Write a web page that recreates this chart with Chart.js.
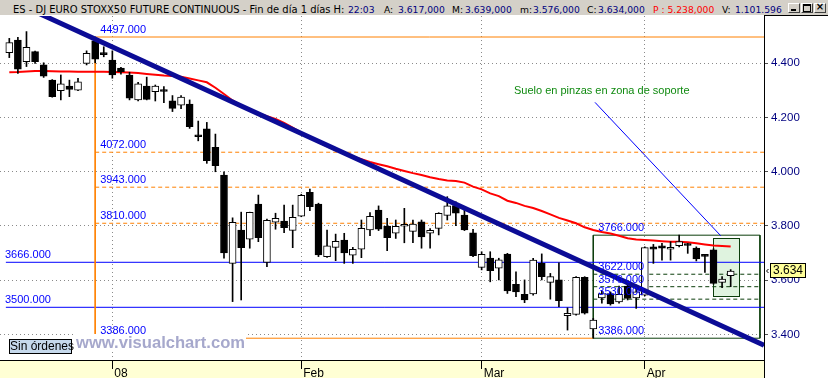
<!DOCTYPE html>
<html><head><meta charset="utf-8">
<script src="https://cdn.jsdelivr.net/npm/chart.js@4.4.1/dist/chart.umd.min.js"></script>
<style>
html,body{margin:0;padding:0;background:#fff;overflow:hidden}
#wrap{position:relative;width:828px;height:378px;overflow:hidden;background:#fff}
#c{position:absolute;left:0;top:0}
#hdr{position:absolute;left:0;top:0;width:828px;height:15px;background:#d4d0c8;font-family:"DejaVu Sans",sans-serif;font-size:9.2px;color:#000}
#hdr span{position:absolute;top:4px;line-height:11px;white-space:pre}
#hdr .v{color:#000080}
#hdr .r{color:#ff0000}
.btn{position:absolute;top:3px;width:10px;height:8px;border:1px solid;border-color:#fff #404040 #404040 #fff;background:#d4d0c8}
#wm{position:absolute;left:75px;top:334px;height:17px;padding:0 1px;background:#fff;font:bold 16.6px "Liberation Sans",Arial,sans-serif;line-height:17px;color:#a6a8cc;white-space:pre}
#so{position:absolute;left:9px;top:339px;width:61px;height:13px;background:#c6d9ec;border:1px solid #000;font:12px "Liberation Sans",Arial,sans-serif;line-height:13px;color:#000;text-align:center;white-space:pre}
</style></head>
<body><div id="wrap">
<canvas id="c" width="828" height="378"></canvas>
<div id="hdr">
<span style="left:13px;font-size:9.95px;top:3.5px">ES - DJ EURO STOXX50 FUTURE CONTINUOUS - Fin de día 1 días H:</span>
<span class="v" style="left:348px">22:03</span>
<span style="left:384px">A:</span><span class="v" style="left:398px">3.617,000</span>
<span style="left:452px">M:</span><span class="v" style="left:465px">3.639,000</span>
<span style="left:520px">m:</span><span class="v" style="left:533px">3.576,000</span>
<span style="left:587px">C:</span><span class="v" style="left:598px">3.634,000</span>
<span class="r" style="left:653px">P : 5.238,000</span>
<span style="left:722px">V:</span><span class="v" style="left:735px">1.101.596</span>
<div class="btn" style="left:788px"><div style="position:absolute;left:2px;top:5px;width:5px;height:2px;background:#000"></div></div>
<div class="btn" style="left:801px"><div style="position:absolute;left:1px;top:0px;width:6px;height:5px;border:1px solid #000;border-top-width:2px"></div></div>
<div class="btn" style="left:814px"><div style="position:absolute;left:0;top:-3px;width:10px;text-align:center;font:bold 10px 'DejaVu Sans';line-height:12px">×</div></div>
</div>
<div id="wm">www.visualchart.com</div>
<div id="so">Sin órdenes</div>
</div>
<script>
// ---------- data ----------
const opens  = [4439,4486,4406,4443,4394,4338,4299,4316,4301,4400, 4483,4439,4412,4382,4357,4265,4316,4295,4298,4262, 4246,4250,4131,4158,4090,3988,3662,3785,3751,3881, 3666,3814,3818,3784,3836,3924,3881,3687,3721,3748, 3692,3714,3785,3859,3800,3773,3799,3780,3815,3773, 3791,3839,3875,3840,3775,3647,3682,3644,3696,3585, 3548,3549,3662,3592,3601,3469,3474,3611,3420,3535, 3551,3520,3578,3535,3545,3723,3727,3714,3727,3730, 3718,3690,3712,3592,3617];
const highs  = [4492,4496,4517,4445,4402,4340,4357,4338,4345,4446, 4497,4461,4446,4385,4367,4330,4349,4320,4314,4281, 4281,4265,4187,4182,4139,4000,3830,3851,3851,3914, 3825,3847,3877,3877,3917,3936,3884,3785,3770,3773, 3721,3822,3849,3874,3828,3822,3865,3822,3822,3790, 3849,3908,3889,3865,3788,3705,3705,3681,3699,3631, 3601,3681,3697,3625,3664,3498,3613,3613,3459,3560, 3557,3578,3597,3582,3723,3732,3736,3742,3766,3736, 3723,3693,3716,3613,3639];
const lows   = [4421,4363,4388,4400,4348,4275,4265,4277,4299,4394, 4402,4424,4345,4360,4265,4261,4265,4261,4255,4222, 4233,4160,4114,4031,4000,3681,3521,3527,3718,3742, 3650,3788,3775,3720,3834,3856,3687,3684,3672,3662, 3662,3683,3764,3783,3709,3754,3738,3738,3718,3718, 3767,3822,3801,3783,3687,3638,3594,3601,3551,3539, 3517,3545,3601,3530,3502,3416,3471,3475,3386,3515, 3508,3515,3527,3496,3542,3662,3674,3674,3723,3699, 3671,3629,3585,3572,3576];
const closes = [4476,4378,4459,4406,4353,4277,4324,4304,4332,4437, 4415,4432,4357,4369,4271,4324,4267,4316,4296,4234, 4275,4166,4129,4041,4022,3701,3813,3720,3850,3757, 3821,3828,3794,3832,3913,3871,3693,3727,3743,3701, 3714,3791,3836,3788,3757,3799,3806,3807,3760,3784, 3847,3874,3847,3785,3690,3695,3635,3675,3560,3557, 3527,3674,3613,3613,3524,3478,3611,3478,3453,3551, 3512,3548,3533,3557,3720,3714,3718,3716,3742,3728, 3678,3688,3588,3604,3634];
const movingAvg = [4367,4368,4370,4372,4372,4371,4370,4370,4369,4369, 4369,4369,4368,4367,4366,4364,4361,4358,4355,4353, 4350,4344,4337,4330,4310,4287,4263,4244,4228,4216, 4205,4195,4180,4163,4144,4125,4108,4094,4080,4066, 4056,4046,4036,4028,4020,4011,4003,3995,3988,3980, 3973,3968,3966,3960,3945,3935,3920,3910,3893,3885, 3874,3866,3855,3843,3830,3820,3810,3795,3785,3778, 3772,3764,3755,3750,3748,3746,3744,3742,3742,3740, 3736,3732,3728,3726,3724];
const xTickIdx = [12, 34, 55, 74];
const xTickLabels = ['08', 'Feb', 'Mar', 'Apr'];
const yTickValues = [3400, 3600, 3800, 4000, 4200, 4400];
const xRange = [-1.083, 87.88];
const yRange = [3305.6, 4574.5];
const fibLevels = [4497, 4072, 3943, 3810, 3386];
const fibDashed = [false, true, true, true, false];
const fibStartIdx = 10;
const supportLevels = [3666, 3500];
const boxLevels = [3766, 3622, 3576, 3530, 3386];
const boxIdx = [68, 87.41];
const trendIdx = [-1.083, 87.88];
const trendVal = [4650, 3360];
const noteText = 'Suelo en pinzas en zona de soporte';
const noteAnchor = [58.77, 4287];
const noteLineIdx = [68.2, 82.84];
const noteLineVal = [4256, 3764];
const noteBoxIdx = [81.97, 85.0];
const noteBoxVal = [3542, 3755];
const lastPrice = 3634;

// ---------- helpers ----------
const FONT = '"Liberation Sans", Arial, sans-serif';
const GREEN = '#0b3d0b';
function seg(x1, y1, x2, y2, color, width, dash, order) {
  return {type: 'line', data: [{x: x1, y: y1}, {x: x2, y: y2}], borderColor: color, borderWidth: width,
    borderDash: dash || [], pointRadius: 0, pointHoverRadius: 0, order: order, clip: 0, tension: 0};
}
const fmtThousands = v => Math.floor(v / 1000) + '.' + String(v % 1000).padStart(3, '0');

const datasets = [];
datasets.push(seg(trendIdx[0], trendVal[0], trendIdx[1], trendVal[1], '#0c0c96', 5, [], 0));
datasets.push(seg(noteLineIdx[0], noteLineVal[0], noteLineIdx[1], noteLineVal[1], '#0000ff', 1, [], 1));
datasets.push({type: 'bar', data: opens.map((o, i) => ({x: i, y: [o, closes[i]]})),
  backgroundColor: opens.map((o, i) => closes[i] >= o ? '#ffffff' : '#000000'),
  borderColor: '#000', borderWidth: 1, borderSkipped: false, barThickness: 7, grouped: false, minBarLength: 2, order: 2});
datasets.push({type: 'bar', data: lows.map((l, i) => ({x: i, y: [l, highs[i]]})),
  backgroundColor: '#000', borderWidth: 0, barThickness: 1, grouped: false, order: 3});
datasets.push({type: 'line', data: movingAvg.map((v, i) => ({x: i, y: v})), borderColor: '#ff0000', borderWidth: 2,
  pointRadius: 0, order: 4, tension: 0});
fibLevels.forEach((v, k) => {
  const end = (v === boxLevels[boxLevels.length - 1]) ? boxIdx[0] : xRange[1];
  datasets.push(seg(fibStartIdx, v, end, v, '#ff8000', 1, fibDashed[k] ? [4, 3] : [], 5));
});
datasets.push(seg(fibStartIdx, fibLevels[0], fibStartIdx, fibLevels[fibLevels.length - 1], '#ff8000', 1, [], 5));
supportLevels.forEach(v => datasets.push(seg(-0.4, v, xRange[1], v, '#0000ff', 1, [], 5)));
boxLevels.forEach((v, k) => {
  const solid = (k === 0 || k === boxLevels.length - 1);
  datasets.push(seg(boxIdx[0], v, boxIdx[1], v, GREEN, 1, solid ? [] : [4, 3], 5));
});
datasets.push(seg(boxIdx[0], boxLevels[0], boxIdx[0], boxLevels[boxLevels.length - 1], GREEN, 1, [], 5));
datasets.push(seg(boxIdx[1], boxLevels[0], boxIdx[1], boxLevels[boxLevels.length - 1], GREEN, 1, [], 5));

const decor = {
  id: 'decor',
  beforeDraw(chart) {
    const {ctx, width, height, chartArea: a} = chart;
    ctx.save();
    ctx.fillStyle = '#fff'; ctx.fillRect(0, 0, width, height);
    ctx.fillStyle = '#ffffd4'; ctx.fillRect(0, a.bottom, a.right, height - a.bottom);
    ctx.restore();
  },
  beforeDatasetsDraw(chart) {
    const {ctx, scales: {x, y}} = chart;
    const x0 = x.getPixelForValue(noteBoxIdx[0]), x1 = x.getPixelForValue(noteBoxIdx[1]);
    const y0 = y.getPixelForValue(noteBoxVal[1]), y1 = y.getPixelForValue(noteBoxVal[0]);
    ctx.save();
    ctx.fillStyle = '#dff3df'; ctx.fillRect(x0, y0, x1 - x0, y1 - y0);
    ctx.strokeStyle = GREEN; ctx.lineWidth = 1;
    ctx.strokeRect(Math.round(x0) + 0.5, Math.round(y0) + 0.5, Math.round(x1 - x0), Math.round(y1 - y0));
    ctx.restore();
  },
  afterDatasetsDraw(chart) {
    const {ctx, chartArea: a, scales: {x, y}} = chart;
    ctx.save();
    ctx.font = '11px ' + FONT;
    ctx.fillStyle = '#0000ff';
    ctx.textBaseline = 'alphabetic';
    fibLevels.forEach(v => ctx.fillText(v.toFixed(3), x.getPixelForValue(fibStartIdx) + 5, y.getPixelForValue(v) - 4));
    supportLevels.forEach(v => ctx.fillText(v.toFixed(3), a.left + 5, y.getPixelForValue(v) - 4));
    boxLevels.forEach(v => ctx.fillText(v.toFixed(3), x.getPixelForValue(boxIdx[0]) + 5, y.getPixelForValue(v) - 4));
    ctx.fillStyle = '#108a10';
    ctx.fillText(noteText, x.getPixelForValue(noteAnchor[0]), y.getPixelForValue(noteAnchor[1]));
    ctx.restore();
  },
  afterDraw(chart) {
    const {ctx, width, height, chartArea: a, scales: {y}} = chart;
    ctx.save();
    ctx.strokeStyle = '#000'; ctx.lineWidth = 1;
    ctx.beginPath();
    ctx.moveTo(a.right + 0.5, 15); ctx.lineTo(a.right + 0.5, height);
    ctx.moveTo(a.right, 15.5); ctx.lineTo(width, 15.5);
    ctx.moveTo(0, a.bottom + 0.5); ctx.lineTo(a.right, a.bottom + 0.5);
    ctx.stroke();
    const py = Math.round(y.getPixelForValue(lastPrice));
    ctx.beginPath();
    ctx.moveTo(768.5, py - 2); ctx.lineTo(766.5, py); ctx.lineTo(768.5, py + 2);
    ctx.stroke();
    ctx.fillStyle = '#ffff99';
    ctx.fillRect(770.5, py - 7.5, 35, 14);
    ctx.strokeRect(770.5, py - 7.5, 35, 14);
    ctx.fillStyle = '#000';
    ctx.font = '12px ' + FONT;
    ctx.textBaseline = 'middle';
    ctx.fillText(fmtThousands(lastPrice), 773, py);
    ctx.restore();
  }
};

new Chart(document.getElementById('c'), {
  type: 'bar',
  data: {datasets},
  plugins: [decor],
  options: {
    responsive: false, animation: false, devicePixelRatio: 1,
    layout: {padding: {top: 16, left: 0, right: 0, bottom: 0}},
    plugins: {legend: {display: false}, tooltip: {enabled: false}},
    events: [],
    scales: {
      x: {
        type: 'linear', min: xRange[0], max: xRange[1], offset: false,
        afterBuildTicks: s => { s.ticks = xTickIdx.map(v => ({value: v})); },
        afterFit: s => { s.height = 18; },
        grid: {offset: false, color: '#8a8a8a', drawTicks: true, tickLength: 9, tickColor: '#000', tickWidth: 1},
        border: {display: true, color: '#000', dash: [1, 3]},
        ticks: {autoSkip: false, maxRotation: 0, align: 'start', labelOffset: 2, padding: -3, color: '#000',
          font: {family: FONT, size: 12}, callback: (v, i) => xTickLabels[i]}
      },
      y: {
        type: 'linear', position: 'right', min: yRange[0], max: yRange[1],
        afterBuildTicks: s => { s.ticks = yTickValues.map(v => ({value: v})); },
        afterFit: s => { s.width = 64; },
        grid: {offset: false, color: '#8a8a8a', drawTicks: true, tickLength: 4, tickColor: '#505050', tickWidth: 1},
        border: {display: true, color: '#000', dash: [1, 3]},
        ticks: {padding: 3, color: '#000080', font: {family: FONT, size: 11.5}, callback: v => fmtThousands(v)}
      }
    }
  }
});
</script>
</body></html>
